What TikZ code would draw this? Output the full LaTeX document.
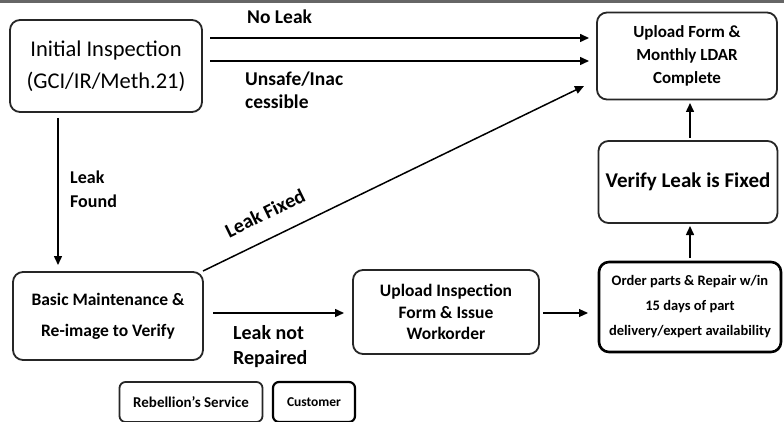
\documentclass[tikz,border=0pt]{standalone}
\usepackage{fontspec}
\setmainfont{Carlito}
\usetikzlibrary{arrows.meta}
\begin{document}
\begin{tikzpicture}[x=1pt,y=-1pt,
  rebox/.style={draw=black!85,line width=1.8pt,rounded corners=10pt,align=center,font=\bfseries},
  cubox/.style={draw=black,line width=2.6pt,rounded corners=10pt,align=center,font=\bfseries},
  arr/.style={-{Triangle[length=9pt,width=8pt]},line width=1.5pt},
  lbl/.style={font=\bfseries,align=left,inner sep=0pt,anchor=north west}]
\useasboundingbox (0,0) rectangle (784,422);
\fill[black!60] (0,0) rectangle (784,3);
% boxes
\node[rebox,minimum width=192pt,minimum height=92pt,font=\fontsize{22.5}{32}\selectfont] (init) at (106,66) {Initial Inspection\\(GCI/IR/Meth.21)};
\node[rebox,minimum width=180pt,minimum height=87pt,font=\bfseries\fontsize{17}{23}\selectfont] (upf) at (687,56) {Upload Form \&\\Monthly LDAR\\Complete};
\node[rebox,minimum width=179pt,minimum height=82pt,font=\bfseries\fontsize{21}{24}\selectfont] (ver) at (688,182) {Verify Leak is Fixed};
\node[cubox,minimum width=182pt,minimum height=90pt,font=\bfseries\fontsize{14.5}{25}\selectfont] (ord) at (690,307) {Order parts \& Repair w/in\\15 days of part\\delivery/expert availability};
\node[rebox,minimum width=186pt,minimum height=84pt,font=\bfseries\fontsize{17.5}{21.5}\selectfont] (upi) at (446,312) {Upload Inspection\\Form \& Issue\\Workorder};
\node[rebox,minimum width=190pt,minimum height=88pt,font=\bfseries\fontsize{17.5}{31}\selectfont] (bas) at (108,316) {Basic Maintenance \&\\Re-image to Verify};
% legend
\node[rebox,rounded corners=6pt,minimum width=143pt,minimum height=40pt,font=\bfseries\fontsize{15}{17}\selectfont] (reb) at (191,402) {Rebellion’s Service};
\node[cubox,line width=2.2pt,rounded corners=6pt,minimum width=82pt,minimum height=40pt,font=\bfseries\fontsize{13.5}{15}\selectfont] (cus) at (314,402) {Customer};
% connectors
\coordinate (a1s) at (210,38); \coordinate (a1e) at (589,38);
\coordinate (a2s) at (210,61); \coordinate (a2e) at (589,61);
\draw[arr] (a1s) -- (a1e);
\draw[arr] (a2s) -- (a2e);
\node[lbl,font=\bfseries\fontsize{19.5}{23}\selectfont] (nl) at (247,10) {No Leak};
\node[lbl,font=\bfseries\fontsize{19.5}{23}\selectfont] (us) at (245,72) {Unsafe/Inac\\cessible};
\coordinate (lfs) at (58,118); \coordinate (lfe) at (58,265);
\draw[arr] (lfs) -- (lfe);
\node[lbl,font=\bfseries\fontsize{18}{24}\selectfont] (lf) at (70,171) {Leak\\Found};
\coordinate (lxs) at (203,271); \coordinate (lxe) at (584,86);
\draw[arr] (lxs) -- (lxe);
\node[font=\bfseries\fontsize{20}{22}\selectfont,rotate=26] (lx) at (265,213) {Leak Fixed};
\coordinate (lns) at (213,313); \coordinate (lne) at (344,313);
\draw[arr] (lns) -- (lne);
\node[lbl,font=\bfseries\fontsize{20}{25}\selectfont] (ln) at (233,325) {Leak not\\Repaired};
\coordinate (w1) at (543,313); \coordinate (w2) at (588,313);
\draw[arr,line width=1.1pt] (w1) -- (w2);
\coordinate (v1) at (690,258); \coordinate (v2) at (690,226);
\draw[arr] (v1) -- (v2);
\coordinate (u1) at (690,138); \coordinate (u2) at (690,103);
\draw[arr] (u1) -- (u2);
\end{tikzpicture}
\end{document}
